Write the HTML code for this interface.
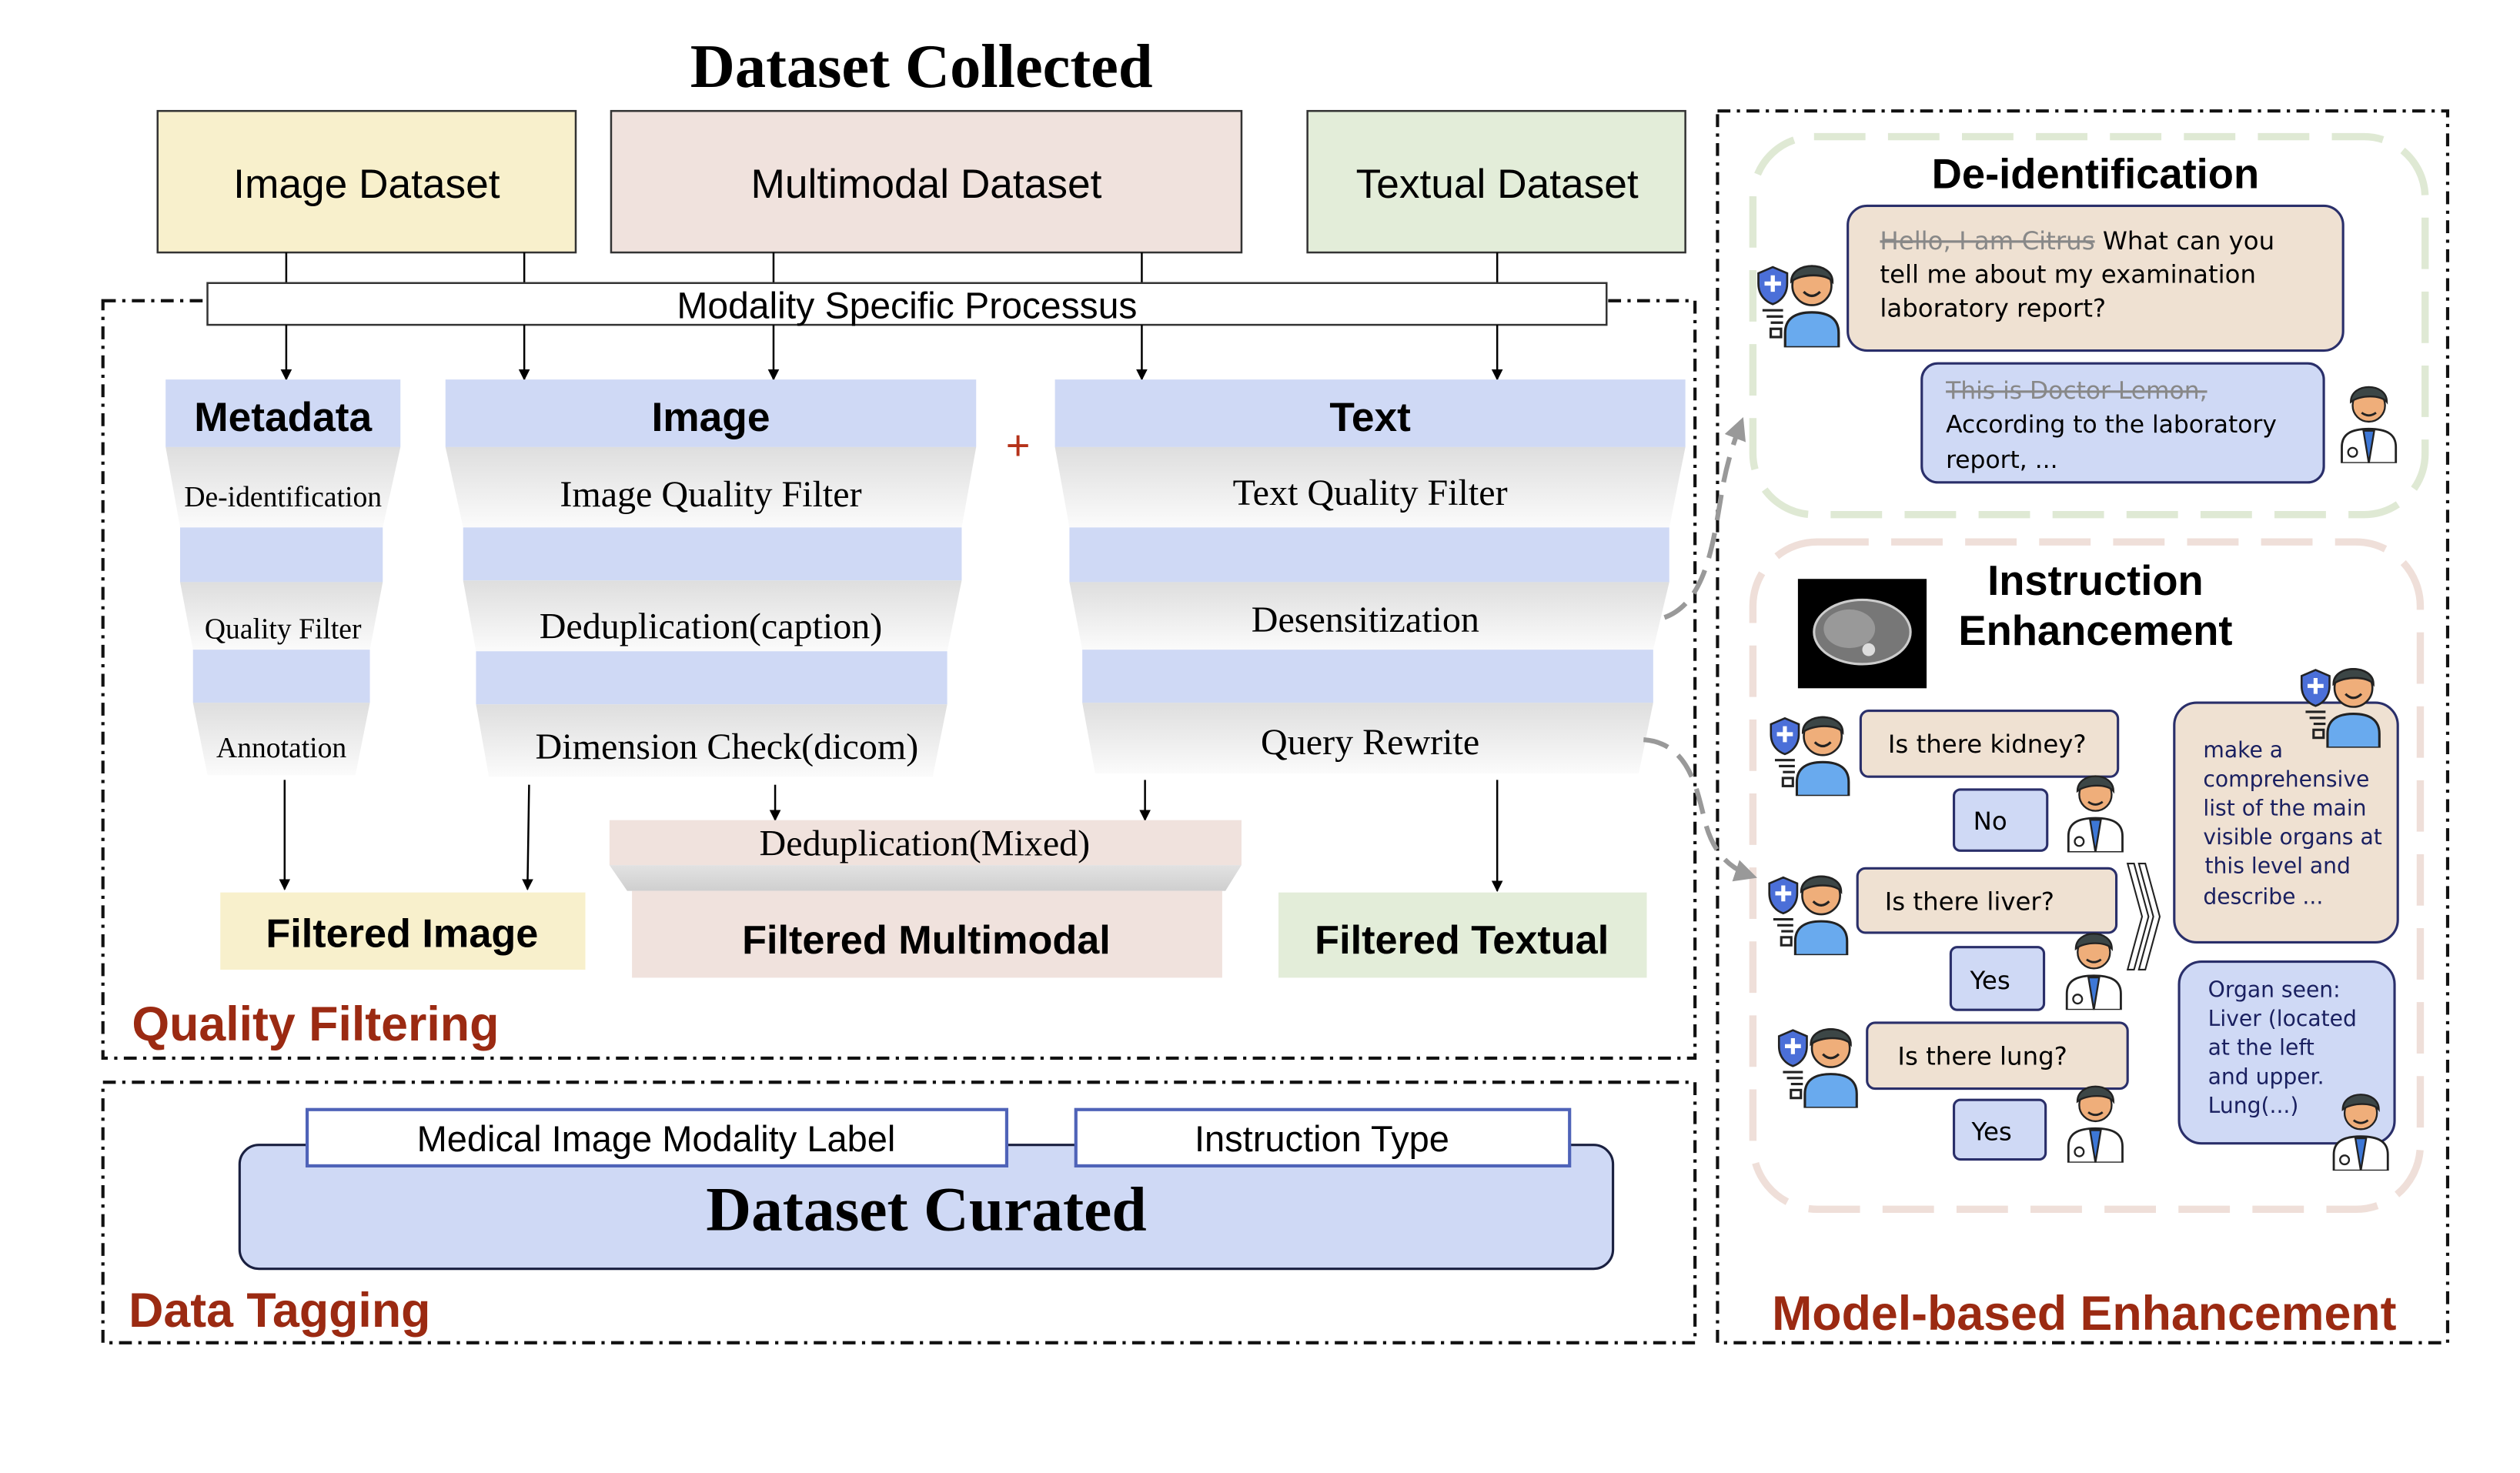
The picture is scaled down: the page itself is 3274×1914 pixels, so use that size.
<!DOCTYPE html>
<html><head><meta charset="utf-8"><style>
html,body{margin:0;padding:0;background:#fff}
svg{display:block}
.sans{font-family:"Liberation Sans",sans-serif}
.serif{font-family:"Liberation Serif",serif}
.comic{font-family:"DejaVu Sans",sans-serif}
</style></head><body>
<svg width="3274" height="1914" viewBox="0 0 1567 916" preserveAspectRatio="none" xmlns="http://www.w3.org/2000/svg">
<defs>
<linearGradient id="g" x1="0" y1="0" x2="0" y2="1"><stop offset="0" stop-color="#dedede"/><stop offset="1" stop-color="#fbfbfb"/></linearGradient>
<linearGradient id="g2" x1="0" y1="0" x2="0" y2="1"><stop offset="0" stop-color="#e2e2e2"/><stop offset="1" stop-color="#cfcfcf"/></linearGradient>
<marker id="ar" viewBox="0 0 10 10" refX="9" refY="5" markerWidth="7" markerHeight="9" orient="auto" markerUnits="userSpaceOnUse"><path d="M0,0 L10,5 L0,10 z" fill="#000"/></marker>
<marker id="ga" viewBox="0 0 10 10" refX="8" refY="5" markerWidth="14" markerHeight="14" orient="auto" markerUnits="userSpaceOnUse"><path d="M0,0 L10,5 L0,10 z" fill="#999"/></marker>
<symbol id="pat" viewBox="0 0 44 50">
<path d="M2,14 l7,-3 l7,3 v5 c0,6 -4,9 -7,10 c-3,-1 -7,-4 -7,-10z" fill="#4b6fd8" stroke="#222" stroke-width="1"/>
<path d="M9,15 v8 M5,19 h8" stroke="#fff" stroke-width="2"/>
<path d="M4,32 h10 M6,35 h8 M8,38 h6" stroke="#222" stroke-width="1.2"/>
<rect x="8" y="41" width="5" height="4" fill="none" stroke="#222" stroke-width="1.2"/>
<path d="M15,50 v-7 c0,-7 5,-10 13,-10 c8,0 13,3 13,10 v7z" fill="#69aaee" stroke="#222" stroke-width="1.2"/>
<circle cx="28" cy="20" r="9.5" fill="#efae7a" stroke="#222" stroke-width="1"/>
<path d="M18,18 c0,-10 20,-10 20,0 c-3,-4 -15,-4 -20,0z" fill="#3c4646" stroke="#222" stroke-width="1"/>
<path d="M24,23 q4,4 8,0" fill="none" stroke="#222" stroke-width="1.2"/>
</symbol>
<symbol id="doc" viewBox="0 0 36 50">
<path d="M3,50 v-9 c0,-7 5,-10 15,-10 c10,0 15,3 15,10 v9z" fill="#fff" stroke="#222" stroke-width="1.2"/>
<path d="M15,32 l3,18 l3,-18z" fill="#3d77d6" stroke="#222" stroke-width="1"/>
<circle cx="9" cy="44" r="2.5" fill="none" stroke="#222"/>
<circle cx="18" cy="18" r="9" fill="#efae7a" stroke="#222" stroke-width="1"/>
<path d="M8,16 c0,-11 20,-11 20,0 c-3,-4 -15,-4 -20,0z" fill="#3c4646" stroke="#222" stroke-width="1"/>
<path d="M14,22 q4,3 8,0" fill="none" stroke="#222" stroke-width="1.2"/>
</symbol>
</defs>

<text x="573" y="54" text-anchor="middle" class="serif" font-size="38.5" font-weight="bold">Dataset Collected</text>

<g fill="none" stroke="#111" stroke-width="2" stroke-dasharray="8,4,2,4">
<rect x="64" y="187" width="990" height="471"/>
<rect x="64" y="673" width="990" height="162"/>
<rect x="1068" y="69" width="454" height="766"/>
</g>

<rect x="98" y="69" width="260" height="88" fill="#f8f0cc" stroke="#333" stroke-width="1.2"/>
<rect x="380" y="69" width="392" height="88" fill="#f0e2dd" stroke="#333" stroke-width="1.2"/>
<rect x="813" y="69" width="235" height="88" fill="#e3edd9" stroke="#333" stroke-width="1.2"/>
<g class="sans" font-size="25.5" text-anchor="middle">
<text x="228" y="123">Image Dataset</text>
<text x="576" y="123">Multimodal Dataset</text>
<text x="931" y="123">Textual Dataset</text>
</g>
<g stroke="#000" stroke-width="1.2">
<line x1="178" y1="157" x2="178" y2="176"/><line x1="326" y1="157" x2="326" y2="176"/>
<line x1="481" y1="157" x2="481" y2="176"/><line x1="710" y1="157" x2="710" y2="176"/>
<line x1="931" y1="157" x2="931" y2="176"/>
</g>
<rect x="129" y="176" width="870" height="26" fill="#fff" stroke="#333" stroke-width="1.2"/>
<text x="564" y="198" text-anchor="middle" class="sans" font-size="23">Modality Specific Processus</text>
<g stroke="#000" stroke-width="1.2" marker-end="url(#ar)">
<line x1="178" y1="202" x2="178" y2="236"/><line x1="326" y1="202" x2="326" y2="236"/>
<line x1="481" y1="202" x2="481" y2="236"/><line x1="710" y1="202" x2="710" y2="236"/>
<line x1="931" y1="202" x2="931" y2="236"/>
</g>

<rect x="103" y="236" width="146" height="42" fill="#cfd9f5"/>
<polygon points="103,278 249,278 238,328 112,328" fill="url(#g)"/>
<rect x="112" y="328" width="126" height="34" fill="#cfd9f5"/>
<polygon points="112,362 238,362 230,404 120,404" fill="url(#g)"/>
<rect x="120" y="404" width="110" height="33" fill="#cfd9f5"/>
<polygon points="120,437 230,437 221,482 129,482" fill="url(#g)"/>
<text x="176" y="268" text-anchor="middle" class="sans" font-size="25.5" font-weight="bold">Metadata</text>
<g class="serif" text-anchor="middle" font-size="18">
<text x="176" y="315">De-identification</text>
<text x="176" y="397">Quality Filter</text>
<text x="175" y="471">Annotation</text>
</g>

<rect x="277" y="236" width="330" height="42" fill="#cfd9f5"/>
<polygon points="277,278 607,278 598,328 288,328" fill="url(#g)"/>
<rect x="288" y="328" width="310" height="33" fill="#cfd9f5"/>
<polygon points="288,361 598,361 589,405 296,405" fill="url(#g)"/>
<rect x="296" y="405" width="293" height="33" fill="#cfd9f5"/>
<polygon points="296,438 589,438 580,483 304,483" fill="url(#g)"/>
<text x="442" y="268" text-anchor="middle" class="sans" font-size="25.5" font-weight="bold">Image</text>
<g class="serif" text-anchor="middle" font-size="23">
<text x="442" y="315">Image Quality Filter</text>
<text x="442" y="397">Deduplication(caption)</text>
<text x="452" y="472">Dimension Check(dicom)</text>
</g>
<text x="633" y="286" text-anchor="middle" class="sans" font-size="26" fill="#b5321a">+</text>

<rect x="656" y="236" width="392" height="42" fill="#cfd9f5"/>
<polygon points="656,278 1048,278 1038,328 665,328" fill="url(#g)"/>
<rect x="665" y="328" width="373" height="34" fill="#cfd9f5"/>
<polygon points="665,362 1038,362 1028,404 673,404" fill="url(#g)"/>
<rect x="673" y="404" width="355" height="33" fill="#cfd9f5"/>
<polygon points="673,437 1028,437 1019,481 681,481" fill="url(#g)"/>
<text x="852" y="268" text-anchor="middle" class="sans" font-size="25.5" font-weight="bold">Text</text>
<g class="serif" text-anchor="middle" font-size="23">
<text x="852" y="314">Text Quality Filter</text>
<text x="849" y="393">Desensitization</text>
<text x="852" y="469">Query Rewrite</text>
</g>

<g stroke="#000" stroke-width="1.2" marker-end="url(#ar)">
<line x1="177" y1="485" x2="177" y2="553"/>
<line x1="329" y1="488" x2="328" y2="553"/>
<line x1="482" y1="488" x2="482" y2="510"/>
<line x1="712" y1="485" x2="712" y2="510"/>
<line x1="931" y1="485" x2="931" y2="554"/>
</g>

<rect x="379" y="510" width="393" height="28" fill="#f0e2dd"/>
<polygon points="379,538 772,538 762,554 390,554" fill="url(#g2)"/>
<text x="575" y="532" text-anchor="middle" class="serif" font-size="23">Deduplication(Mixed)</text>
<rect x="137" y="555" width="227" height="48" fill="#f8f0cc"/>
<rect x="393" y="554" width="367" height="54" fill="#f0e2dd"/>
<rect x="795" y="555" width="229" height="53" fill="#e3edd9"/>
<g class="sans" font-size="25" font-weight="bold" text-anchor="middle">
<text x="250" y="589">Filtered Image</text>
<text x="576" y="593">Filtered Multimodal</text>
<text x="909" y="593">Filtered Textual</text>
</g>
<text x="82" y="647" class="sans" font-size="30" font-weight="bold" fill="#9b2a12">Quality Filtering</text>

<rect x="149" y="712" width="854" height="77" rx="12" fill="#cfd9f5" stroke="#1a2040" stroke-width="1.5"/>
<rect x="191" y="690" width="435" height="35" fill="#fff" stroke="#4f63b8" stroke-width="2"/>
<rect x="669" y="690" width="307" height="35" fill="#fff" stroke="#4f63b8" stroke-width="2"/>
<g class="sans" font-size="22.5" text-anchor="middle">
<text x="408" y="716">Medical Image Modality Label</text>
<text x="822" y="716">Instruction Type</text>
</g>
<text x="576" y="765" text-anchor="middle" class="serif" font-size="39" font-weight="bold">Dataset Curated</text>
<text x="80" y="825" class="sans" font-size="30" font-weight="bold" fill="#9b2a12">Data Tagging</text>

<rect x="1090" y="85" width="418" height="235" rx="38" fill="none" stroke="#dfe9d4" stroke-width="4.5" stroke-dasharray="32,14"/>
<rect x="1090" y="337" width="415" height="415" rx="40" fill="none" stroke="#efdfd9" stroke-width="4.5" stroke-dasharray="32,14"/>
<text x="1303" y="117" text-anchor="middle" class="sans" font-size="26" font-weight="bold">De-identification</text>

<rect x="1149" y="128" width="308" height="90" rx="12" fill="#efe1d2" stroke="#2a2f6a" stroke-width="1.5"/>
<g class="comic" font-size="15.5">
<text x="1169" y="155"><tspan fill="#888" text-decoration="line-through">Hello, I am Citrus</tspan> What can you</text>
<text x="1169" y="176">tell me about my examination</text>
<text x="1169" y="197">laboratory report?</text>
</g>
<rect x="1195" y="226" width="250" height="74" rx="10" fill="#cfd9f5" stroke="#2a2f6a" stroke-width="1.5"/>
<g class="comic" font-size="15">
<text x="1210" y="248" fill="#888" text-decoration="line-through">This is Doctor Lemon,</text>
<text x="1210" y="269">According to the laboratory</text>
<text x="1210" y="291">report, ...</text>
</g>
<use href="#pat" x="1090" y="152" width="58" height="64"/>
<use href="#doc" x="1450" y="232" width="46" height="56"/>

<rect x="1118" y="360" width="80" height="68" fill="#000"/>
<ellipse cx="1158" cy="393" rx="30" ry="20" fill="#777" stroke="#ccc" stroke-width="1.5"/>
<ellipse cx="1150" cy="391" rx="16" ry="12" fill="#999"/>
<circle cx="1162" cy="404" r="4" fill="#ddd"/>
<text x="1303" y="370" text-anchor="middle" class="sans" font-size="26" font-weight="bold">Instruction</text>
<text x="1303" y="401" text-anchor="middle" class="sans" font-size="26" font-weight="bold">Enhancement</text>

<g fill="#efe1d2" stroke="#2a2f6a" stroke-width="1.5">
<rect x="1157" y="442" width="160" height="41" rx="5"/>
<rect x="1155" y="540" width="161" height="40" rx="5"/>
<rect x="1161" y="636" width="162" height="41" rx="5"/>
<rect x="1352" y="437" width="139" height="149" rx="14"/>
</g>
<g fill="#cfd9f5" stroke="#2a2f6a" stroke-width="1.5">
<rect x="1215" y="491" width="58" height="38" rx="4"/>
<rect x="1213" y="589" width="58" height="39" rx="4"/>
<rect x="1215" y="684" width="57" height="37" rx="4"/>
<rect x="1355" y="598" width="134" height="113" rx="14"/>
</g>
<g class="comic" font-size="15.5">
<text x="1174" y="468">Is there kidney?</text>
<text x="1172" y="566">Is there liver?</text>
<text x="1180" y="662">Is there lung?</text>
<text x="1227" y="516">No</text>
<text x="1225" y="615">Yes</text>
<text x="1226" y="709">Yes</text>
</g>
<g class="comic" font-size="13.5" fill="#1a2060">
<text x="1370" y="471">make a</text>
<text x="1370" y="489">comprehensive</text>
<text x="1370" y="507">list of the main</text>
<text x="1370" y="525">visible organs at</text>
<text x="1371" y="543">this level and</text>
<text x="1370" y="562">describe ...</text>
<text x="1373" y="620">Organ seen:</text>
<text x="1373" y="638">Liver (located</text>
<text x="1373" y="656">at the left</text>
<text x="1373" y="674">and upper.</text>
<text x="1373" y="692">Lung(...)</text>
</g>
<use href="#pat" x="1094" y="433" width="64" height="62"/>
<use href="#pat" x="1093" y="532" width="64" height="62"/>
<use href="#pat" x="1099" y="627" width="64" height="62"/>
<use href="#pat" x="1424" y="403" width="64" height="62"/>
<use href="#doc" x="1280" y="474" width="46" height="56"/>
<use href="#doc" x="1279" y="572" width="46" height="56"/>
<use href="#doc" x="1280" y="667" width="46" height="56"/>
<use href="#doc" x="1445" y="672" width="46" height="56"/>
<g fill="#fff" stroke="#222" stroke-width="1">
<path d="M1323,537 l4,0 l9,33 l-9,33 l-4,0 l9,-33z"/>
<path d="M1330,537 l4,0 l9,33 l-9,33 l-4,0 l9,-33z"/>
</g>

<path d="M1035,384 C1060,375 1065,340 1070,310 C1073,290 1078,275 1083,262" fill="none" stroke="#999" stroke-width="3" stroke-dasharray="16,8" marker-end="url(#ga)"/>
<path d="M1022,460 C1050,462 1055,490 1060,510 C1065,530 1075,540 1090,545" fill="none" stroke="#999" stroke-width="3" stroke-dasharray="16,8" marker-end="url(#ga)"/>

<text x="1296" y="827" text-anchor="middle" class="sans" font-size="30" font-weight="bold" fill="#9b2a12">Model-based Enhancement</text>
</svg>
</body></html>
